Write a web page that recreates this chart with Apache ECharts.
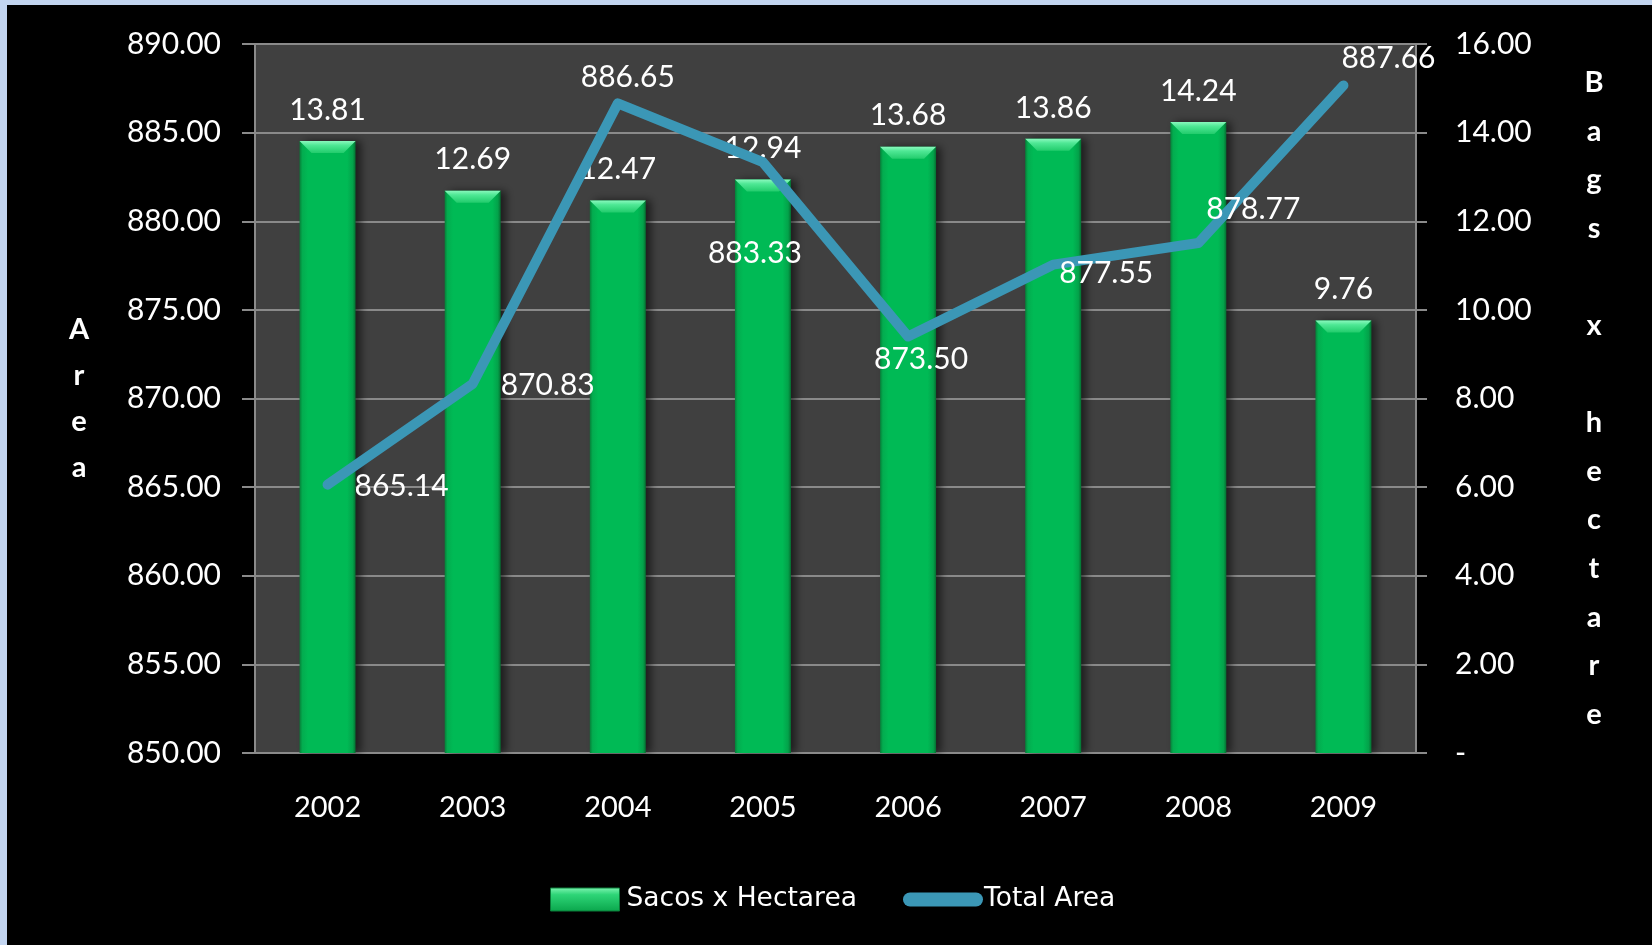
<!DOCTYPE html>
<html>
<head>
<meta charset="utf-8">
<script src="https://cdn.jsdelivr.net/npm/echarts@6/dist/echarts.min.js"></script>
<style>
  html, body { margin: 0; padding: 0; background: #000; }
  #wrap { position: relative; width: 1652px; height: 945px; }
  #chart { width: 1652px; height: 945px; }
  .edge { position: absolute; background: #c3d5f0; }
</style>
</head>
<body>
<div id="wrap">
  <div id="chart"></div>
  <div class="edge" style="left:0;top:0;width:1652px;height:5px"></div>
  <div class="edge" style="left:0;top:0;width:7px;height:945px"></div>
</div>
<script>
const years = ['2002', '2003', '2004', '2005', '2006', '2007', '2008', '2009']
const sacosHectarea = [13.81, 12.69, 12.47, 12.94, 13.68, 13.86, 14.24, 9.76]
const totalArea = [865.14, 870.83, 886.65, 883.33, 873.50, 877.55, 878.77, 887.66]
// where each area label sits relative to its point (as in the original)
const areaLabelOffset = [[74, 2], [75, 2], [10, -26], [-8, 91], [13, 23], [53, 9], [55, -34], [45, -27]]

const font = 'Lato'
const legendFont = 'DejaVu Sans'
const gray = '#8a8a8a'
const lineBlue = '#3b97b6'

const chart = echarts.init(document.getElementById('chart'))

const barColor = new echarts.graphic.LinearGradient(0, 0, 1, 0, [
  { offset: 0, color: '#067f38' },
  { offset: 0.05, color: '#03ac4f' },
  { offset: 0.15, color: '#00ba55' },
  { offset: 0.85, color: '#00ba55' },
  { offset: 0.95, color: '#03a24a' },
  { offset: 1, color: '#056f31' }
])
const bevelColor = new echarts.graphic.LinearGradient(0, 0, 0, 1, [
  { offset: 0, color: '#8af8bd' },
  { offset: 0.35, color: '#4fe895' },
  { offset: 1, color: '#22cc6c' }
])
const legendGreen = new echarts.graphic.LinearGradient(0, 0, 0, 1, [
  { offset: 0, color: '#7ff5b2' },
  { offset: 0.3, color: '#2ed577' },
  { offset: 1, color: '#0aa64c' }
])

const option = {
  backgroundColor: '#000',
  animation: false,
  textStyle: { fontFamily: font, color: '#fff' },
  grid: {
    left: 255, right: 236, top: 44, bottom: 192,
    show: true, backgroundColor: '#404040', borderWidth: 0,
    outerBoundsMode: 'none'
  },
  legend: [
    {
      left: 545, top: 881,
      data: [{ name: 'Sacos x Hectarea', icon: 'rect', itemStyle: { color: legendGreen, borderColor: '#0a7a38', borderWidth: 1 } }],
      itemWidth: 69, itemHeight: 23, itemGap: 0,
      textStyle: { color: '#fff', fontSize: 26.5, fontFamily: legendFont, padding: [0, 0, 0, 2] }
    },
    {
      left: 898, top: 881,
      data: [{ name: 'Total Area', icon: 'path://M7,0 L73,0 A7,7 0 0 1 73,14 L7,14 A7,7 0 0 1 7,0 Z', itemStyle: { color: lineBlue } }],
      itemWidth: 80, itemHeight: 14, itemGap: 0,
      textStyle: { color: '#fff', fontSize: 26.5, fontFamily: legendFont, padding: [0, 0, 0, -4] }
    }
  ],
  xAxis: {
    type: 'category',
    data: years,
    axisLine: { lineStyle: { color: gray, width: 2 } },
    axisTick: { length: 11, lineStyle: { color: gray, width: 2 } },
    axisLabel: { color: '#fff', fontSize: 29, margin: 40, fontFamily: font }
  },
  yAxis: [
    {
      type: 'value',
      min: 850, max: 890, interval: 5,
      name: 'A\nr\ne\na',
      nameLocation: 'middle', nameGap: 176, nameRotate: 0,
      nameTextStyle: { color: '#fff', fontSize: 29, fontWeight: 'bold', lineHeight: 46, align: 'center', verticalAlign: 'middle', fontFamily: font },
      axisLine: { show: true, lineStyle: { color: gray, width: 2 } },
      axisTick: { show: true, length: 13, lineStyle: { color: gray, width: 2 } },
      splitLine: { lineStyle: { color: gray, width: 2 } },
      axisLabel: { color: '#fff', fontSize: 30, margin: 34, fontFamily: font, formatter: v => v.toFixed(2) }
    },
    {
      type: 'value',
      min: 0, max: 16, interval: 2,
      name: 'B\na\ng\ns\n \nx\n \nh\ne\nc\nt\na\nr\ne',
      nameLocation: 'middle', nameGap: 178, nameRotate: 0,
      nameTextStyle: { color: '#fff', fontSize: 29, fontWeight: 'bold', lineHeight: 48.6, align: 'center', verticalAlign: 'middle', fontFamily: font },
      axisLine: { show: true, lineStyle: { color: gray, width: 2 } },
      axisTick: { show: true, length: 11, lineStyle: { color: gray, width: 2 } },
      splitLine: { show: false },
      axisLabel: { color: '#fff', fontSize: 30, margin: 39, fontFamily: font, formatter: v => v === 0 ? '-' : v.toFixed(2) }
    }
  ],
  series: [
    {
      name: 'Sacos x Hectarea',
      type: 'bar',
      yAxisIndex: 1,
      data: sacosHectarea,
      barWidth: 56,
      itemStyle: {
        color: barColor,
        shadowColor: 'rgba(0,0,0,0.55)', shadowBlur: 8, shadowOffsetX: 5
      },
      label: {
        show: true, position: 'top', distance: 16,
        color: '#fff', fontSize: 30, fontFamily: font,
        formatter: p => p.value.toFixed(2)
      },
      z: 2
    },
    {
      // light bevel on top of each bar
      name: 'bevel',
      type: 'pictorialBar',
      yAxisIndex: 1,
      data: sacosHectarea,
      symbol: 'path://M0,0 L56,0 L44,12 L12,12 Z',
      symbolSize: [56, 12],
      symbolPosition: 'end',
      barWidth: 56,
      itemStyle: { color: bevelColor },
      silent: true,
      z: 3
    },
    {
      name: 'Total Area',
      type: 'line',
      yAxisIndex: 0,
      data: totalArea.map((v, i) => ({
        value: v,
        label: { offset: areaLabelOffset[i] }
      })),
      symbol: 'circle',
      symbolSize: 2,
      showSymbol: true,
      itemStyle: { color: lineBlue },
      lineStyle: { color: lineBlue, width: 10, cap: 'round', join: 'round' },
      label: {
        show: true, position: 'inside',
        color: '#fff', fontSize: 30, fontFamily: font,
        formatter: p => p.value.toFixed(2)
      },
      z: 4
    }
  ]
}

chart.setOption(option)
</script>
</body>
</html>
